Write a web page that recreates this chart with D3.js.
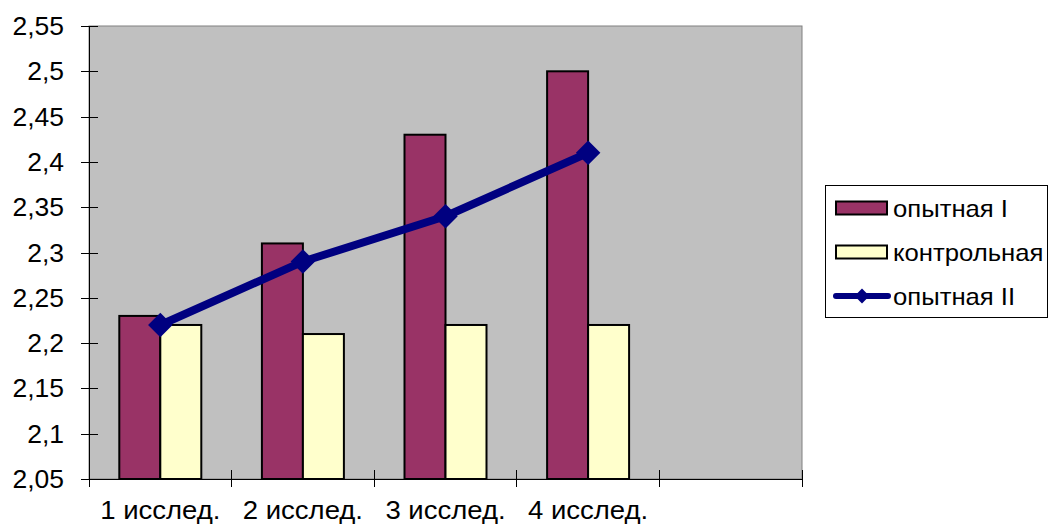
<!DOCTYPE html>
<html>
<head>
<meta charset="utf-8">
<script src="https://cdn.jsdelivr.net/npm/d3@7/dist/d3.min.js"></script>
<style>
  html, body { margin: 0; padding: 0; background: #ffffff; }
  svg { display: block; font-family: "Liberation Sans", Arial, sans-serif; }
</style>
</head>
<body>
<svg id="chart" width="1050" height="526"></svg>
<script>
// Study rounds (a fifth, empty slot follows them on the axis)
const categories = ["1 исслед.", "2 исслед.", "3 исслед.", "4 исслед."];
const seriesNames = ["опытная I", "контрольная", "опытная II"];
const experimental1 = [2.23, 2.31, 2.43, 2.50];
const control = [2.22, 2.21, 2.22, 2.22];
const experimental2 = [2.22, 2.29, 2.34, 2.41];
const yTicks = [2.05, 2.10, 2.15, 2.20, 2.25, 2.30, 2.35, 2.40, 2.45, 2.50, 2.55];
const yTickLabels = ["2,05", "2,1", "2,15", "2,2", "2,25", "2,3", "2,35", "2,4", "2,45", "2,5", "2,55"];

const svg = d3.select("#chart");
const plot = { left: 89, right: 802, top: 26, bottom: 479 };

const slots = categories.concat([" "]);
const x = d3.scaleBand().domain(slots).range([plot.left, plot.right]).padding(0);
const bw = x.bandwidth();
const barW = bw * 0.2875;
const y = d3.scaleLinear().domain([2.05, 2.55]).range([plot.bottom, plot.top]);

// plot background
svg.append("rect")
  .attr("x", plot.left).attr("y", plot.top)
  .attr("width", plot.right - plot.left).attr("height", plot.bottom - plot.top)
  .attr("fill", "#c0c0c0").attr("stroke", "#808080").attr("stroke-width", 1);

// bars
const barSeries = [
  { values: experimental1, fill: "#993366", offset: -1 },
  { values: control, fill: "#ffffcc", offset: 0 }
];
barSeries.forEach(s => {
  svg.append("g").selectAll("rect")
    .data(s.values)
    .join("rect")
    .attr("x", (d, i) => x(categories[i]) + bw / 2 + s.offset * barW)
    .attr("y", d => y(d))
    .attr("width", barW)
    .attr("height", d => y(2.05) - y(d))
    .attr("fill", s.fill)
    .attr("stroke", "#000")
    .attr("stroke-width", 2);
});

// axes lines and crossing ticks
const axisG = svg.append("g").attr("stroke", "#000").attr("stroke-width", 1).attr("shape-rendering", "crispEdges");
axisG.append("line").attr("x1", plot.left).attr("x2", plot.left).attr("y1", plot.top).attr("y2", plot.bottom);
axisG.append("line").attr("x1", plot.left).attr("x2", plot.right).attr("y1", plot.bottom).attr("y2", plot.bottom);
axisG.selectAll(".yt").data(yTicks).join("line")
  .attr("x1", plot.left - 8).attr("x2", plot.left + 9)
  .attr("y1", d => Math.round(y(d)) + 0.5).attr("y2", d => Math.round(y(d)) + 0.5);
const xEdges = slots.map(c => x(c)).concat([plot.right]);
axisG.selectAll(".xt").data(xEdges).join("line")
  .attr("x1", d => d).attr("x2", d => d)
  .attr("y1", plot.bottom - 9).attr("y2", plot.bottom + 8);

// y tick labels
svg.append("g").selectAll("text")
  .data(yTicks)
  .join("text")
  .attr("transform", d => `translate(64,${y(d) + 9}) scale(1.06,1)`)
  .attr("text-anchor", "end")
  .attr("font-size", 25)
  .attr("fill", "#000")
  .text((d, i) => yTickLabels[i]);

// category labels
svg.append("g").selectAll("text")
  .data(categories)
  .join("text")
  .attr("transform", d => `translate(${x(d) + bw / 2},519) scale(1.1,1)`)
  .attr("text-anchor", "middle")
  .attr("font-size", 25)
  .attr("fill", "#000")
  .text(d => d);

// line series with diamond markers
const line = d3.line()
  .x((d, i) => x(categories[i]) + bw / 2)
  .y(d => y(d));
svg.append("path")
  .datum(experimental2)
  .attr("d", line)
  .attr("fill", "none")
  .attr("stroke", "#000080")
  .attr("stroke-width", 8)
  .attr("stroke-linejoin", "round");
svg.append("g").selectAll("path")
  .data(experimental2)
  .join("path")
  .attr("transform", (d, i) => `translate(${x(categories[i]) + bw / 2},${y(d)}) rotate(45)`)
  .attr("d", d3.symbol(d3.symbolSquare, 300))
  .attr("fill", "#000080");

// legend
const legend = svg.append("g");
legend.append("rect")
  .attr("x", 825.5).attr("y", 185.5).attr("width", 222).attr("height", 132)
  .attr("fill", "#fff").attr("stroke", "#000").attr("stroke-width", 1);
const itemY = [208, 252, 296];
const swatchFill = ["#993366", "#ffffcc"];
[0, 1].forEach(i => {
  legend.append("rect")
    .attr("x", 836).attr("y", itemY[i] - 6.5).attr("width", 51).attr("height", 13)
    .attr("fill", swatchFill[i]).attr("stroke", "#000").attr("stroke-width", 2);
});
legend.append("line")
  .attr("x1", 836).attr("x2", 888).attr("y1", itemY[2]).attr("y2", itemY[2])
  .attr("stroke", "#000080").attr("stroke-width", 6).attr("stroke-linecap", "round");
legend.append("path")
  .attr("transform", `translate(862,${itemY[2]}) rotate(45)`)
  .attr("d", d3.symbol(d3.symbolSquare, 110))
  .attr("fill", "#000080");
legend.selectAll("text")
  .data(seriesNames)
  .join("text")
  .attr("transform", (d, i) => `translate(893,${itemY[i] + 9}) scale(1.07,1)`)
  .attr("font-size", 24)
  .attr("fill", "#000")
  .text(d => d);
</script>
</body>
</html>
